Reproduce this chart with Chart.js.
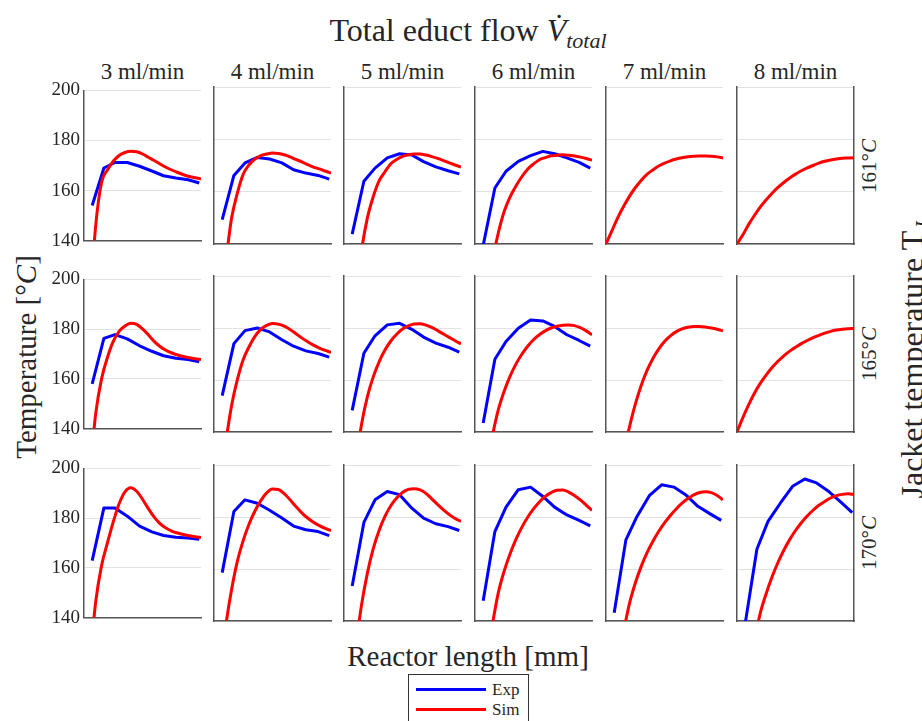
<!DOCTYPE html>
<html>
<head>
<meta charset="utf-8">
<script src="https://cdn.jsdelivr.net/npm/chart.js@4.4.0/dist/chart.umd.min.js"></script>
<style>
body { margin: 0; background: #fff; }
#page { position: relative; width: 922px; height: 721px; overflow: hidden; font-family: 'Liberation Serif', serif; color: #262626; }
.lbl { position: absolute; white-space: nowrap; transform: translate(-50%, -50%); line-height: 1.1; }
.rot { transform: translate(-50%, -50%) rotate(-90deg); }
canvas { position: absolute; }
#legend { position: absolute; left: 408px; top: 674px; width: 119px; height: 60px; border: 1px solid #333; background: #fff; }
#legend .ln { position: absolute; left: 7px; width: 70px; height: 3px; }
#legend .tx { position: absolute; left: 83px; font-size: 17px; line-height: 1; }
</style>
</head>
<body>
<div id="page">
  <div class="lbl" style="left:468px; top:33px; font-size:32px;">Total educt flow <i>V&#775;</i><sub style="font-size:22px;"><i>total</i></sub></div>
  <div class="lbl rot" style="left:27px; top:357px; font-size:29px;">Temperature [°<i>C</i>]</div>
  <div class="lbl" style="left:468px; top:657px; font-size:29px;">Reactor length [mm]</div>
  <div class="lbl rot" style="left:915px; top:360px; font-size:32px;">Jacket temperature T<sub style="font-size:21px;"><i>J</i></sub></div>
  <div id="legend">
    <div class="ln" style="top:13px; background:#0000ff;"></div>
    <div class="tx" style="top:6px;">Exp</div>
    <div class="ln" style="top:33px; background:#ff0000;"></div>
    <div class="tx" style="top:26px;">Sim</div>
  </div>
</div>
<script>
// flow rates (columns) and jacket temperatures (rows)
const flows = ['3 ml/min', '4 ml/min', '5 ml/min', '6 ml/min', '7 ml/min', '8 ml/min'];
const jacketTemps = ['161', '165', '170'];

// thermocouple positions and simulation grid (reactor length, 0-100)
const expPos = [7, 17, 26.5, 37, 47.5, 58, 68, 78.5, 89, 98.5];
const simPos = [0, 5, 10, 15, 20, 25, 30, 35, 40, 45, 50, 55, 60, 65, 70, 75, 80, 85, 90, 95, 100];

// measured temperatures, one list per flow rate (null = no measurement)
const exp161 = [
  [154, 169, 171.2, 171.2, 169.7, 167.8, 165.9, 165, 164.3, 163],
  [149.3, 166.2, 171, 173.1, 172.5, 171, 168.4, 167.1, 166.2, 164.8],
  [143.8, 164, 169, 172.9, 174.5, 174, 171.5, 169.5, 168, 166.8],
  [139.5, 161.4, 167.8, 171.6, 173.8, 175.4, 174.5, 172.9, 171.2, 169],
  null,
  null
];
const exp165 = [
  [158, 176.3, 177.8, 176.1, 173.3, 171.1, 169.3, 168.3, 167.8, 166.9],
  [154, 174, 179, 180, 178.5, 175.5, 173, 171.2, 170.2, 168.8],
  [148.3, 170.3, 177, 181.2, 181.8, 179.5, 176.5, 174.2, 172.6, 170.7],
  [143.5, 168, 174.8, 179.9, 183.1, 182.7, 180.6, 177.4, 175.2, 173],
  null,
  null
];
const exp170 = [
  [162.9, 184.1, 184.1, 180.8, 176.8, 174.5, 173, 172.3, 172, 171.5],
  [158.6, 182.1, 186.6, 185.3, 182.6, 179.6, 176.5, 175.1, 174.4, 172.8],
  [153.5, 177.9, 186.6, 189.8, 188.6, 183.4, 179.6, 177.4, 176.3, 174.8],
  [147.8, 174.4, 183.8, 190.5, 191.5, 187.9, 183.8, 180.8, 178.7, 176.6],
  [143.2, 171.2, 180.2, 188.2, 192.4, 191.5, 188.6, 184.1, 181.2, 178.7],
  [139, 167.6, 178.3, 185.3, 191.8, 194.6, 193.1, 189.8, 185.6, 181.7]
];

// simulated temperatures on simPos
const sim161 = [
  [null, 115, 146, 163.2, 168.2, 171.7, 174, 175.2, 175.7, 175.5, 174.6, 173.3, 172, 170.6, 169.3, 168.2, 167.2, 166.3, 165.6, 165.1, 164.7],
  [null, null, 133, 149.8, 159.5, 166.7, 170.3, 172.5, 173.8, 174.4, 174.8, 174.6, 174.1, 173.3, 172.3, 171.4, 170.3, 169.4, 168.7, 167.9, 167.1],
  [null, null, 118, 137.5, 150, 158.1, 164.1, 167.6, 170.7, 172.3, 173.5, 174.1, 174.4, 174.4, 174, 173.4, 172.7, 171.9, 171, 170.2, 169.4],
  [null, null, null, 134, 144.4, 152.5, 158, 162.2, 165.7, 168.6, 170.6, 172.2, 173, 173.7, 173.9, 174.1, 173.9, 173.6, 173.2, 172.7, 172],
  [140, 145, 150, 154.3, 158.2, 161.5, 164.3, 166.6, 168.3, 169.8, 170.9, 171.8, 172.5, 173, 173.3, 173.5, 173.6, 173.6, 173.5, 173.3, 172.9],
  [140, 143.5, 147.5, 151, 154.2, 156.9, 159.4, 161.6, 163.5, 165.2, 166.7, 168, 169.1, 170, 170.9, 171.6, 172.1, 172.5, 172.8, 172.9, 173]
];
const sim165 = [
  [null, 122, 146, 160, 168.6, 175.1, 179.1, 181.3, 182.4, 181.9, 180.1, 177.7, 175.1, 173, 171.5, 170.4, 169.6, 169, 168.5, 168.1, 167.8],
  [null, null, 136, 150.1, 160.2, 167.9, 172.8, 176.8, 179.5, 181, 181.7, 181.5, 180.7, 179.4, 177.8, 176.2, 174.7, 173.4, 172.3, 171.4, 170.6],
  [null, null, 128, 143, 153.6, 161.2, 167, 171.5, 175, 177.6, 179.6, 180.8, 181.5, 181.6, 181.1, 180.2, 179, 177.7, 176.4, 175.1, 173.9],
  [null, null, 127, 138.8, 148.7, 155.8, 161.5, 166.1, 169.9, 173, 175.5, 177.4, 178.9, 180, 180.7, 181.1, 181.2, 180.9, 180.1, 178.9, 177.4],
  [null, null, null, 131.8, 141.8, 150.6, 157.8, 163.6, 168.2, 171.9, 174.8, 177, 178.6, 179.7, 180.3, 180.6, 180.6, 180.4, 180, 179.5, 178.9],
  [140, 145.5, 150.5, 155, 158.8, 162, 164.8, 167.2, 169.3, 171.1, 172.6, 174, 175.2, 176.3, 177.2, 178, 178.7, 179.2, 179.5, 179.7, 179.8]
];
const sim170 = [
  [null, 122, 146.3, 160.9, 170, 178.5, 185.8, 190.6, 192.2, 190.8, 187.6, 183.8, 180.4, 177.8, 176, 174.8, 174, 173.4, 172.9, 172.5, 172.2],
  [null, 120, 138, 152, 163, 171, 177.3, 182.3, 186.3, 189.3, 190.8, 190.6, 189, 186.6, 184, 181.6, 179.6, 178, 176.7, 175.6, 174.8],
  [null, null, 130, 146.2, 158.4, 167.8, 174.8, 180.2, 184.3, 187.3, 189.4, 190.6, 190.9, 190.4, 189.1, 187, 184.8, 182.7, 180.9, 179.4, 178.3],
  [null, null, 125, 139, 151, 159.3, 165.9, 171.4, 176, 179.9, 183.1, 185.8, 187.9, 189.4, 190.3, 190.4, 189.6, 188.3, 186.6, 184.6, 182.5],
  [null, null, 124, 135.8, 146.6, 154.5, 160.9, 166.2, 170.6, 174.4, 177.7, 180.6, 183.1, 185.3, 187.1, 188.5, 189.4, 189.7, 189.4, 188.3, 186.6],
  [null, null, null, 133, 143.2, 150.6, 157, 162.5, 167.2, 171.3, 174.8, 177.8, 180.4, 182.6, 184.5, 186, 187.3, 188.2, 188.7, 188.9, 188.7]
];

const expByRow = [exp161, exp165, exp170];
const simByRow = [sim161, sim165, sim170];

// panel geometry
const plotLeft = [84, 214, 344, 475, 606, 737];
const plotTop = [87, 276, 465];
const plotH = [157, 156, 156];
const plotW = 117;
const padL = 50, padT = 12, padR = 6, padB = 12;

Chart.defaults.font.family = "'Liberation Serif', serif";
Chart.defaults.color = '#262626';

const page = document.getElementById('page');

// column headers and row labels
flows.forEach(function(f, c) {
  const d = document.createElement('div');
  d.className = 'lbl';
  d.style.left = (plotLeft[c] + plotW / 2) + 'px';
  d.style.top = '72px';
  d.style.fontSize = '23px';
  d.textContent = f;
  page.appendChild(d);
});
jacketTemps.forEach(function(t, r) {
  const d = document.createElement('div');
  d.className = 'lbl rot';
  d.style.left = '870px';
  d.style.top = (plotTop[r] + plotH[r] / 2) + 'px';
  d.style.fontSize = '21px';
  d.innerHTML = t + '°<i>C</i>';
  page.appendChild(d);
});

function makePanel(r, c) {
  const cv = document.createElement('canvas');
  const w = padL + plotW + padR, h = padT + plotH[r] + padB;
  cv.width = w; cv.height = h;
  cv.style.left = (plotLeft[c] - padL) + 'px';
  cv.style.top = (plotTop[r] - padT) + 'px';
  cv.style.width = w + 'px'; cv.style.height = h + 'px';
  page.appendChild(cv);

  const datasets = [];
  const exp = expByRow[r][c];
  if (exp) {
    datasets.push({
      label: 'Exp',
      data: expPos.map(function(x, i) { return {x: x, y: exp[i]}; }),
      borderColor: '#0000ff',
      borderWidth: 3,
      pointRadius: 0,
      tension: 0,
      borderJoinStyle: 'round',
      order: 2
    });
  }
  const sim = simByRow[r][c];
  datasets.push({
    label: 'Sim',
    data: simPos.map(function(x, i) { return {x: x, y: sim[i]}; }),
    borderColor: '#ff0000',
    borderWidth: 3,
    pointRadius: 0,
    cubicInterpolationMode: 'monotone',
    borderJoinStyle: 'round',
    order: 1
  });

  const scales = {
    x: {
      type: 'linear', min: 0, max: 100,
      ticks: { display: false },
      grid: { display: false, drawTicks: false },
      border: { display: true, color: '#555', width: 1.5 },
      afterFit: function(s) { s.height = 0; }
    },
    y: {
      min: 140, max: 200,
      ticks: { display: c === 0, stepSize: 20, padding: 4, color: '#262626', font: { size: 19 } },
      grid: { color: '#e2e2e2', lineWidth: 1, drawTicks: false },
      border: { display: true, color: '#555', width: 1.5 },
      afterFit: function(s) { s.width = padL; }
    }
  };
  if (c === flows.length - 1) {
    scales.yR = {
      position: 'right', min: 140, max: 200,
      ticks: { display: false },
      grid: { display: false, drawTicks: false },
      border: { display: true, color: '#555', width: 1.5 },
      afterFit: function(s) { s.width = 0; }
    };
  }

  new Chart(cv.getContext('2d'), {
    type: 'line',
    data: { datasets: datasets },
    options: {
      responsive: false,
      animation: false,
      devicePixelRatio: 1,
      layout: { padding: { left: 0, top: padT, right: padR, bottom: padB } },
      plugins: { legend: { display: false }, tooltip: { enabled: false } },
      scales: scales
    }
  });
}

for (let r = 0; r < 3; r++) {
  for (let c = 0; c < 6; c++) {
    makePanel(r, c);
  }
}
</script>
</body>
</html>
